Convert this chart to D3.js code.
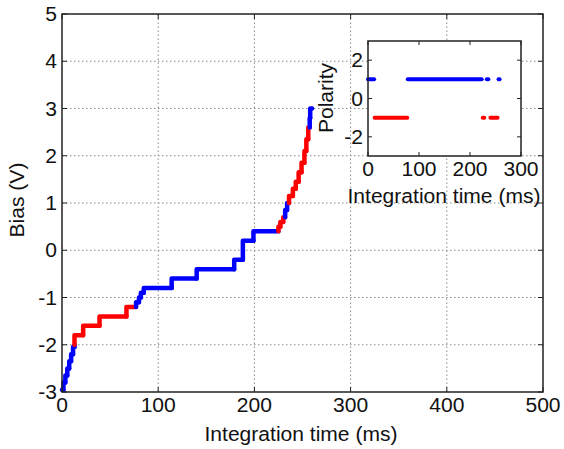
<!DOCTYPE html>
<html>
<head>
<meta charset="utf-8">
<title>Bias vs integration time</title>
<script src="https://cdn.jsdelivr.net/npm/d3@7"></script>
<style>
  body { margin: 0; background: #fff; }
  text { font-family: "Liberation Sans", Arial, sans-serif; fill: #111; font-size: 19.5px; }
</style>
</head>
<body>
<div id="container"></div>
<script>
// bias levels: each level starts at levelTime and is reached by a step of the given polarity
var levelTime = [0, 1.5, 3.5, 5.5, 7.5, 9.5, 11.5, 13,
                 13, 22, 39, 67,
                 77, 80, 82, 85, 114, 140, 179, 188, 199,
                 225, 227, 230,
                 232, 234,
                 236, 240, 243, 246, 249, 252, 254, 256,
                 257.5, 258];
var levelBias = [-2.95, -2.8, -2.65, -2.5, -2.35, -2.2, -2.05, -2.0,
                 -1.8, -1.6, -1.4, -1.2,
                 -1.1, -1.0, -0.9, -0.8, -0.6, -0.4, -0.2, 0.2, 0.4,
                 0.5, 0.6, 0.7,
                 0.85, 1.0,
                 1.15, 1.3, 1.45, 1.65, 1.85, 2.1, 2.35, 2.6,
                 2.8, 3.0];
var levelPolarity = [1, 1, 1, 1, 1, 1, 1, 1,
                     -1, -1, -1, -1,
                     1, 1, 1, 1, 1, 1, 1, 1, 1,
                     -1, -1, -1,
                     1, 1,
                     -1, -1, -1, -1, -1, -1, -1, -1,
                     1, 1];
var endTime = 260;

// inset: polarity runs [start, end, polarity]
var polarityRuns = [[0, 12, 1], [13, 77, -1], [78, 223, 1], [225, 228, -1],
                    [233, 236, 1], [240, 254, -1], [256, 258, 1]];

var xTicks = [0, 100, 200, 300, 400, 500];
var yTicks = [-3, -2, -1, 0, 1, 2, 3, 4, 5];
var insetXTicks = [0, 100, 200, 300];
var insetYTicks = [-2, 0, 2];

var W = 564, H = 449;
var colorOf = function(p){ return p > 0 ? "#0000ff" : "#ff0000"; };

var svg = d3.select("#container").append("svg").attr("width", W).attr("height", H);

// text slightly widened, like the reference figure
function label(g, tx, ty, str, anchor, rot) {
  return g.append("text")
    .attr("transform", "translate(" + tx + "," + ty + ")" + (rot ? " rotate(-90)" : "") + " scale(1.08,1)")
    .attr("text-anchor", anchor).text(str);
}

var x = d3.scaleLinear().domain([0, 500]).range([62, 543]);
var y = d3.scaleLinear().domain([-3, 5]).range([392, 14]);

// grid
var grid = svg.append("g").attr("stroke", "#8a8a8a").attr("stroke-dasharray", "1.5,2.5").attr("stroke-width", 1);
xTicks.slice(1, -1).forEach(function(t){
  grid.append("line").attr("x1", x(t)).attr("x2", x(t)).attr("y1", y(-3)).attr("y2", y(5));
});
yTicks.slice(1, -1).forEach(function(t){
  grid.append("line").attr("x1", x(0)).attr("x2", x(500)).attr("y1", y(t)).attr("y2", y(t));
});

// staircase
var line = d3.line().x(function(d){ return x(d[0]); }).y(function(d){ return y(d[1]); });
var curve = svg.append("g").attr("fill", "none").attr("stroke-width", 4.5)
  .attr("stroke-linejoin", "round").attr("stroke-linecap", "round");
for (var k = 0; k < levelTime.length; k++) {
  var prev = k > 0 ? levelBias[k-1] : levelBias[k];
  var next = k < levelTime.length - 1 ? levelTime[k+1] : endTime;
  var pts = [[levelTime[k], prev], [levelTime[k], levelBias[k]], [next, levelBias[k]]];
  curve.append("path").attr("d", line(pts)).attr("stroke", colorOf(levelPolarity[k]));
}

// frame and ticks (matlab style, inward on all sides)
function frame(g, sx, sy, xt, yt, tl) {
  var x0 = sx.range()[0], x1 = sx.range()[1], y0 = sy.range()[0], y1 = sy.range()[1];
  g.append("rect").attr("x", x0).attr("y", y1).attr("width", x1 - x0).attr("height", y0 - y1)
    .attr("fill", "none").attr("stroke", "#222").attr("stroke-width", 1.5);
  xt.forEach(function(t){
    g.append("line").attr("x1", sx(t)).attr("x2", sx(t)).attr("y1", y0).attr("y2", y0 - tl).attr("stroke", "#222");
    g.append("line").attr("x1", sx(t)).attr("x2", sx(t)).attr("y1", y1).attr("y2", y1 + tl).attr("stroke", "#222");
    label(g, sx(t), y0 + 20, t, "middle");
  });
  yt.forEach(function(t){
    g.append("line").attr("x1", x0).attr("x2", x0 + tl).attr("y1", sy(t)).attr("y2", sy(t)).attr("stroke", "#222");
    g.append("line").attr("x1", x1).attr("x2", x1 - tl).attr("y1", sy(t)).attr("y2", sy(t)).attr("stroke", "#222");
    label(g, x0 - 5, sy(t) + 7, t, "end");
  });
}
frame(svg.append("g"), x, y, xTicks, yTicks, 5);

label(svg, 301, 441, "Integration time (ms)", "middle");
label(svg, 24, 200, "Bias (V)", "middle", true);

// inset
var ix = d3.scaleLinear().domain([0, 300]).range([368, 521]);
var iy = d3.scaleLinear().domain([-3, 3]).range([156, 41]);
var inset = svg.append("g");
inset.append("rect").attr("x", 368).attr("y", 41).attr("width", 153).attr("height", 115).attr("fill", "#fff");
polarityRuns.forEach(function(r){
  inset.append("line").attr("x1", ix(r[0])).attr("x2", ix(r[1]))
    .attr("y1", iy(r[2])).attr("y2", iy(r[2]))
    .attr("stroke", colorOf(r[2])).attr("stroke-width", 4).attr("stroke-linecap", "round");
});
frame(inset, ix, iy, insetXTicks, insetYTicks, 4);
label(inset, 444, 203, "Integration time (ms)", "middle");
label(inset, 333, 98, "Polarity", "middle", true);
</script>
</body>
</html>
